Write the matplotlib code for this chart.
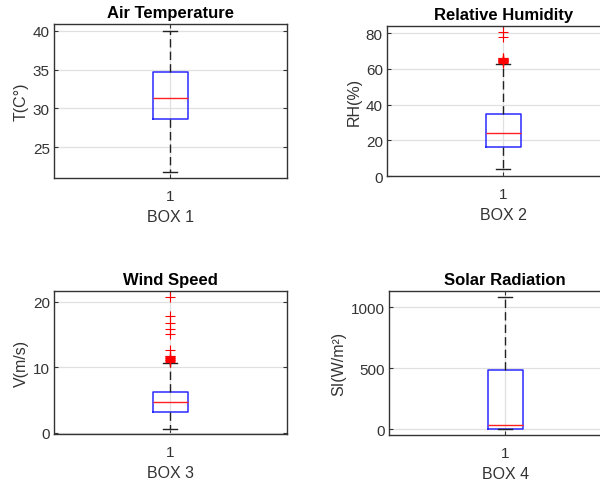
import matplotlib
matplotlib.use('Agg')
import matplotlib.pyplot as plt

plt.rcParams['font.family'] = ['Liberation Sans', 'DejaVu Sans']

titles = ['Air Temperature', 'Relative Humidity', 'Wind Speed', 'Solar Radiation']
ylabels = ['T(C°)', 'RH(%)', 'V(m/s)', 'SI(W/m²)']
xlabels = ['BOX 1', 'BOX 2', 'BOX 3', 'BOX 4']

# box statistics
whis_lo = [21.8, 3.7, 0.6, 0.0]
q1 = [28.6, 16.5, 3.2, 0.0]
median = [31.3, 24.2, 4.7, 30.0]
q3 = [34.7, 34.8, 6.3, 482.0]
whis_hi = [40.0, 62.9, 10.7, 1082.0]

fliers_temp = []
fliers_rh = [63.4, 63.7, 64.0, 64.2, 64.4, 64.6, 64.8, 65.0, 65.2, 65.5, 65.8, 66.1, 78.0, 80.8]
fliers_wind = [10.9, 11.0, 11.1, 11.2, 11.3, 11.4, 11.5, 11.6, 11.7, 11.8,
               12.6, 15.1, 15.9, 16.8, 17.8, 20.8]
fliers_solar = []
fliers = [fliers_temp, fliers_rh, fliers_wind, fliers_solar]

ylims = [(21.0, 40.9), (0, 84), (-0.2, 21.6), (-50, 1130)]
yticks = [[25, 30, 35, 40], [0, 20, 40, 60, 80], [0, 10, 20], [0, 500, 1000]]

# axes rectangles in figure fractions (right column runs past the edge)
positions = [
    [0.090, 0.634, 0.388, 0.315],
    [0.645, 0.638, 0.388, 0.307],
    [0.090, 0.110, 0.388, 0.292],
    [0.648, 0.108, 0.388, 0.294],
]

grey = '#333333'

fig = plt.figure(figsize=(6, 4.89), dpi=100)

for i in range(4):
    ax = fig.add_axes(positions[i])
    stats = [{
        'whislo': whis_lo[i], 'q1': q1[i], 'med': median[i],
        'q3': q3[i], 'whishi': whis_hi[i], 'fliers': fliers[i],
    }]
    ax.bxp(
        stats, positions=[1], widths=0.15, capwidths=[0.06],
        boxprops=dict(color='#2a2aff', linewidth=1.1),
        medianprops=dict(color='#ff2020', linewidth=1.0),
        whiskerprops=dict(color='#222222', linewidth=1.0, linestyle=(0, (6, 3))),
        capprops=dict(color='#222222', linewidth=1.0),
        flierprops=dict(marker='+', markeredgecolor='#ff0000', markersize=7,
                        markeredgewidth=0.8, linestyle='none'),
    )
    ax.set_xlim(0.5, 1.5)
    ax.set_ylim(*ylims[i])
    ax.set_xticks([1])
    ax.set_xticklabels(['1'])
    ax.set_yticks(yticks[i])
    ax.set_axisbelow(True)
    ax.grid(True, axis='both', color='#e0e0e0', linewidth=0.9)
    ax.tick_params(direction='in', top=True, right=True, length=3,
                   width=0.8, colors=grey, labelsize=11)
    ax.tick_params(axis='x', pad=8)
    ax.tick_params(axis='y', pad=3)
    for s in ax.spines.values():
        s.set_color(grey)
        s.set_linewidth(1.0)
    ax.set_title(titles[i], fontsize=12, fontweight='bold', pad=5)
    ax.set_xlabel(xlabels[i], fontsize=11.5, color=grey, labelpad=4)
    ax.set_ylabel(ylabels[i], fontsize=11.5, color=grey, labelpad=3)

fig.savefig('out.png', dpi=100)
